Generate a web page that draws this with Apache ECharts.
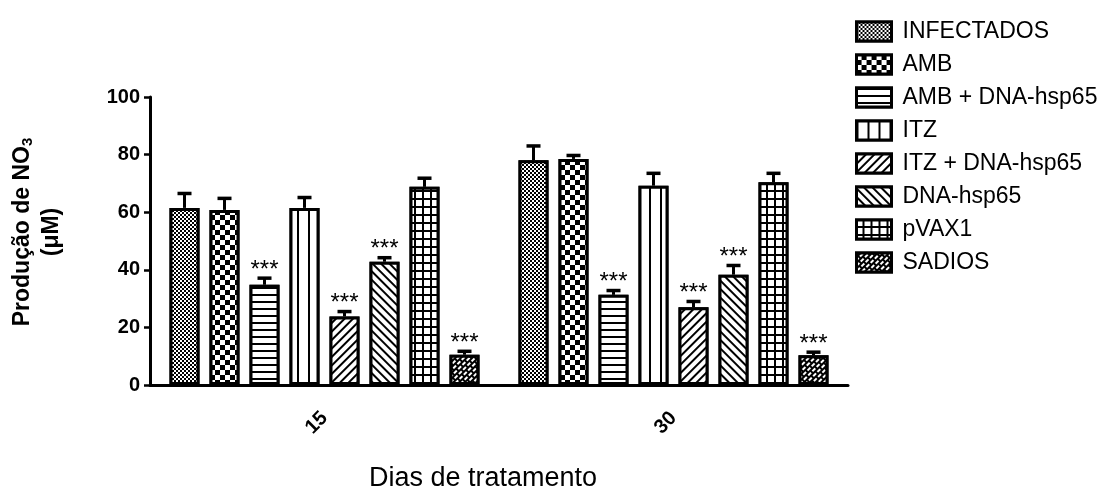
<!DOCTYPE html>
<html>
<head>
<meta charset="utf-8">
<script src="https://cdn.jsdelivr.net/npm/echarts@6/dist/echarts.min.js"></script>
<style>
html,body{margin:0;padding:0;background:#fff;}
#chart{width:1105px;height:490px;}
</style>
</head>
<body>
<div id="chart"></div>
<script>
// ---- data ----
const categories = ['15', '30'];
const seriesNames = ['INFECTADOS', 'AMB', 'AMB + DNA-hsp65', 'ITZ', 'ITZ + DNA-hsp65', 'DNA-hsp65', 'pVAX1', 'SADIOS'];
const infectados = [61.5, 78.0];
const amb = [60.8, 78.5];
const ambDna = [34.8, 31.3];
const itz = [61.5, 69.2];
const itzDna = [23.8, 27.0];
const dnaHsp = [42.8, 38.3];
const pvax = [68.8, 70.4];
const sadios = [10.5, 10.3];
const infectadosErr = [5.0, 5.0];
const ambErr = [4.0, 1.2];
const ambDnaErr = [2.3, 1.5];
const itzErr = [3.6, 4.3];
const itzDnaErr = [1.7, 2.0];
const dnaHspErr = [1.4, 3.2];
const pvaxErr = [3.0, 3.1];
const sadiosErr = [1.2, 1.1];
const significant = [false, false, true, false, true, true, false, true];
const yTicks = [0, 20, 40, 60, 80, 100];

const values = [infectados, amb, ambDna, itz, itzDna, dnaHsp, pvax, sadios];
const errors = [infectadosErr, ambErr, ambDnaErr, itzErr, itzDnaErr, dnaHspErr, pvaxErr, sadiosErr];

// ---- styles ----
const FONT = 'Liberation Sans, Arial, sans-serif';
const BAR_W = 30, BAR_GAP = 10;
const decals = [
  {symbol:'rect', symbolSize:1, dashArrayX:[[2,2],[0,2,2,0]], dashArrayY:[2,0], rotation:0, color:'#000', backgroundColor:'#fff'},
  {symbol:'rect', symbolSize:1, dashArrayX:[[5,5],[0,5,5,0]], dashArrayY:[5,0], rotation:0, color:'#000', backgroundColor:'#fff'},
  {symbol:'rect', symbolSize:1, dashArrayX:[1,0], dashArrayY:[1.5,4.5], rotation:0, color:'#000', backgroundColor:'#fff'},
  {symbol:'rect', symbolSize:1, dashArrayX:[1.5,8.5], dashArrayY:[1,0], rotation:0, color:'#000', backgroundColor:'#fff'},
  {symbol:'rect', symbolSize:1, dashArrayX:[1,0], dashArrayY:[1.5,4], rotation:-Math.PI/4, color:'#000', backgroundColor:'#fff'},
  {symbol:'rect', symbolSize:1, dashArrayX:[1,0], dashArrayY:[1.5,4], rotation:Math.PI/4, color:'#000', backgroundColor:'#fff'},
  {symbol:'rect', symbolSize:1, dashArrayX:[6,1.5], dashArrayY:[6,1.5], rotation:0, color:'#fff', backgroundColor:'#000'},
  {symbol:'rect', symbolSize:1, dashArrayX:[[4,2],[1,2,3,0]], dashArrayY:[2,1.5], rotation:-Math.PI/4, color:'#fff', backgroundColor:'#000'}
];

const barSeries = seriesNames.map((name, i) => ({
  name: name,
  type: 'bar',
  barWidth: BAR_W,
  barGap: (BAR_GAP / BAR_W * 100) + '%',
  data: values[i],
  itemStyle: {color:'#fff', borderColor:'#000', borderWidth:3, decal: decals[i]},
  emphasis: {disabled: true}
}));

const errData = [];
values.forEach((vals, g) => {
  vals.forEach((v, c) => {
    errData.push([c, v, errors[g][c], g, significant[g] ? 1 : 0]);
  });
});

const errSeries = {
  type: 'custom',
  name: 'err',
  coordinateSystem: 'cartesian2d',
  encode: {x: 0, y: 1},
  data: errData,
  z: 5,
  silent: true,
  renderItem: function (params, api) {
    const c = api.value(0), v = api.value(1), e = api.value(2), g = api.value(3), sig = api.value(4);
    const base = api.coord([c, v]);
    const top = api.coord([c, v + e]);
    const x = base[0] + (g - (seriesNames.length - 1) / 2) * (BAR_W + BAR_GAP);
    const children = [
      {type:'line', shape:{x1:x, y1:base[1], x2:x, y2:top[1]}, style:{stroke:'#000', lineWidth:3}},
      {type:'line', shape:{x1:x-7, y1:top[1], x2:x+7, y2:top[1]}, style:{stroke:'#000', lineWidth:3.5}}
    ];
    if (sig) {
      children.push({type:'text', style:{text:'***', x:x, y:top[1]+4, textAlign:'center', textVerticalAlign:'bottom', font:'24px ' + FONT, fill:'#000'}});
    }
    return {type:'group', children: children};
  }
};

const chart = echarts.init(document.getElementById('chart'));
chart.setOption({
  animation: false,
  aria: {enabled: true, decal: {show: true}},
  backgroundColor: '#fff',
  grid: {left: 150, right: 257, top: 97, bottom: 105, containLabel: false, outerBoundsMode: 'none'},
  legend: {
    data: seriesNames,
    orient: 'vertical',
    left: 850,
    top: 15,
    itemWidth: 35,
    itemHeight: 19,
    itemGap: 10,
    icon: 'rect',
    selectedMode: false,
    itemStyle: {borderColor:'#000', borderWidth:3},
    textStyle: {fontFamily: FONT, fontSize: 23, color:'#000', padding:[0,0,0,6]}
  },
  xAxis: {
    type: 'category',
    data: categories,
    name: 'Dias de tratamento',
    nameLocation: 'middle',
    nameGap: 80,
    nameTextStyle: {fontFamily: FONT, fontSize: 27, color:'#000', padding:[0,32,0,0]},
    axisLine: {lineStyle: {color:'#000', width:3}},
    axisTick: {alignWithLabel: true, length: 7, lineStyle:{color:'#000', width:2.5}},
    axisLabel: {rotate: 45, fontFamily: FONT, fontWeight:'bold', fontSize: 20, color:'#000', margin: 30}
  },
  yAxis: {
    type: 'value',
    min: yTicks[0],
    max: yTicks[yTicks.length - 1],
    interval: yTicks[1] - yTicks[0],
    name: 'Produção de NO{sub|3}\n(μM)',
    nameLocation: 'middle',
    nameRotate: 90,
    nameGap: 84,
    nameTextStyle: {
      fontFamily: FONT, fontWeight:'bold', fontSize: 23, color:'#000', lineHeight: 29, padding:[0,0,0,18],
      rich: {sub: {fontFamily: FONT, fontWeight:'bold', fontSize: 15, color:'#000', lineHeight: 29, padding:[10,0,0,0]}}
    },
    axisLine: {show: true, lineStyle: {color:'#000', width:3}},
    axisTick: {show: true, length: 6, lineStyle:{color:'#000', width:2.5}},
    axisLabel: {fontFamily: FONT, fontWeight:'bold', fontSize: 20, color:'#000', margin: 10},
    splitLine: {show: false}
  },
  series: barSeries.concat([errSeries])
});
</script>
</body>
</html>
